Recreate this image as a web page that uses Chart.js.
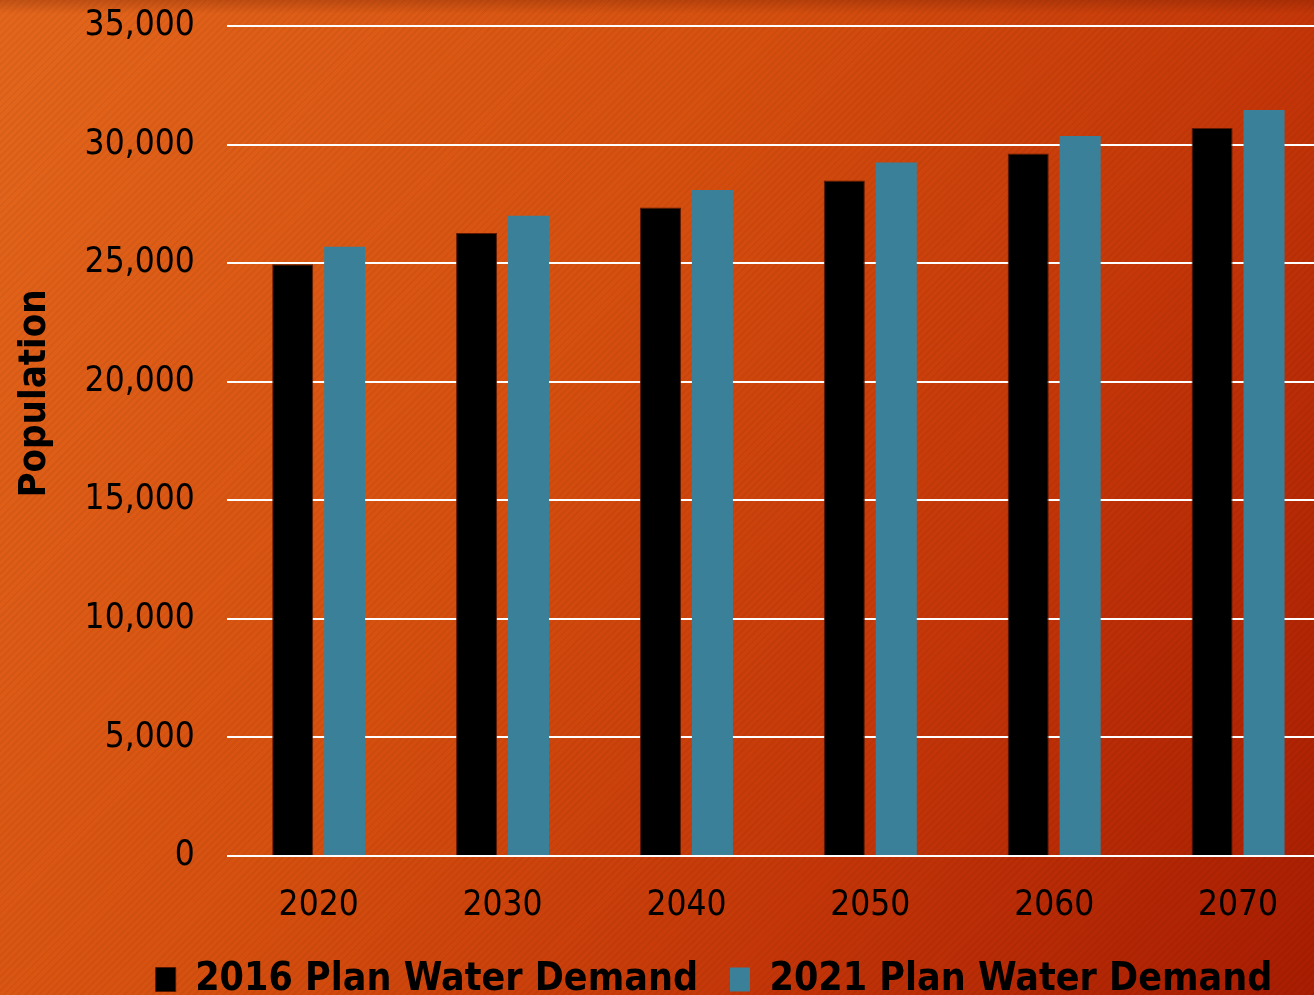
<!DOCTYPE html>
<html>
<head>
<meta charset="utf-8">
<script src="https://cdn.jsdelivr.net/npm/chart.js@4/dist/chart.umd.min.js"></script>
<style>
    html, body {
        margin: 0;
        padding: 0;
        width: 1314px;
        height: 995px;
        overflow: hidden;
    }
    body {
        position: relative;
        background:
            repeating-linear-gradient(135deg, rgba(0,0,0,0.045) 0px, rgba(0,0,0,0.045) 2px, rgba(0,0,0,0) 2px, rgba(0,0,0,0) 5px),
            linear-gradient(to bottom, rgba(90,20,0,0.25) 0px, rgba(90,20,0,0) 14px),
            linear-gradient(120deg, #e4661c 0%, #d6500f 40%, #c43608 70%, #a81c02 100%);
    }
    #wrap {
        position: absolute;
        left: 0;
        top: -27px;
        width: 1330px;
        height: 1056px;
    }
</style>
</head>
<body>
<div id="wrap"><canvas id="chart"></canvas></div>
<script>
    // ------------------------------------------------------------------
    // Data
    // ------------------------------------------------------------------
    const years = ['2020', '2030', '2040', '2050', '2060', '2070'];
    const plan2016Demand = [24950, 26270, 27350, 28490, 29620, 30700];
    const plan2021Demand = [25690, 27000, 28080, 29240, 30360, 31460];
    const seriesNames = ['2016 Plan Water Demand', '2021 Plan Water Demand'];
    const yTitle = 'Population';

    const FONT = '"DejaVu Sans Condensed", "DejaVu Sans", sans-serif';

    // move the legend a bit (reference legend sits off-centre and close to the axis)
    const legendShift = {
        id: 'legendShift',
        afterLayout(chart) {
            const lg = chart.legend;
            if (!lg) return;
            const dx = 43, dy = -20;
            lg.left += dx;
            lg.right += dx;
            lg.top += dy;
            lg.bottom += dy;
        }
    };

    const ctx = document.getElementById('chart');

    new Chart(ctx, {
        type: 'bar',
        data: {
            labels: years,
            datasets: [
                {
                    label: seriesNames[0],
                    data: plan2016Demand,
                    backgroundColor: '#000000',
                    borderColor: 'rgba(80,20,0,0.9)',
                    borderWidth: 1,
                    categoryPercentage: 0.565,
                    barPercentage: 0.79
                },
                {
                    label: seriesNames[1],
                    data: plan2021Demand,
                    backgroundColor: '#3b8099',
                    categoryPercentage: 0.565,
                    barPercentage: 0.79
                }
            ]
        },
        options: {
            responsive: true,
            maintainAspectRatio: false,
            animation: false,
            layout: {
                padding: { top: 0, left: 12, right: 0, bottom: 0 }
            },
            scales: {
                x: {
                    grid: { display: false },
                    border: { display: false },
                    ticks: {
                        color: '#000',
                        padding: 21,
                        font: { family: FONT, size: 35 }
                    }
                },
                y: {
                    min: 0,
                    max: 35000,
                    ticks: {
                        stepSize: 5000,
                        color: '#000',
                        padding: 32,
                        font: { family: FONT, size: 35 },
                        callback: v => v.toLocaleString('en-US')
                    },
                    grid: {
                        color: '#ffffff',
                        lineWidth: 2,
                        drawTicks: false
                    },
                    border: { display: false },
                    title: {
                        display: true,
                        // leading spaces push the rotated title up, as in the reference
                        text: '\u00A0'.repeat(8) + yTitle,
                        color: '#000',
                        padding: { top: 0, bottom: -5 },
                        font: { family: FONT, size: 38, weight: 'bold' }
                    }
                }
            },
            plugins: {
                legend: {
                    position: 'bottom',
                    labels: {
                        color: '#000',
                        boxWidth: 20,
                        boxHeight: 24,
                        padding: 32,
                        font: { family: FONT, size: 39, weight: 'bold' }
                    }
                },
                tooltip: { enabled: false }
            }
        },
        plugins: [legendShift]
    });
</script>
</body>
</html>
